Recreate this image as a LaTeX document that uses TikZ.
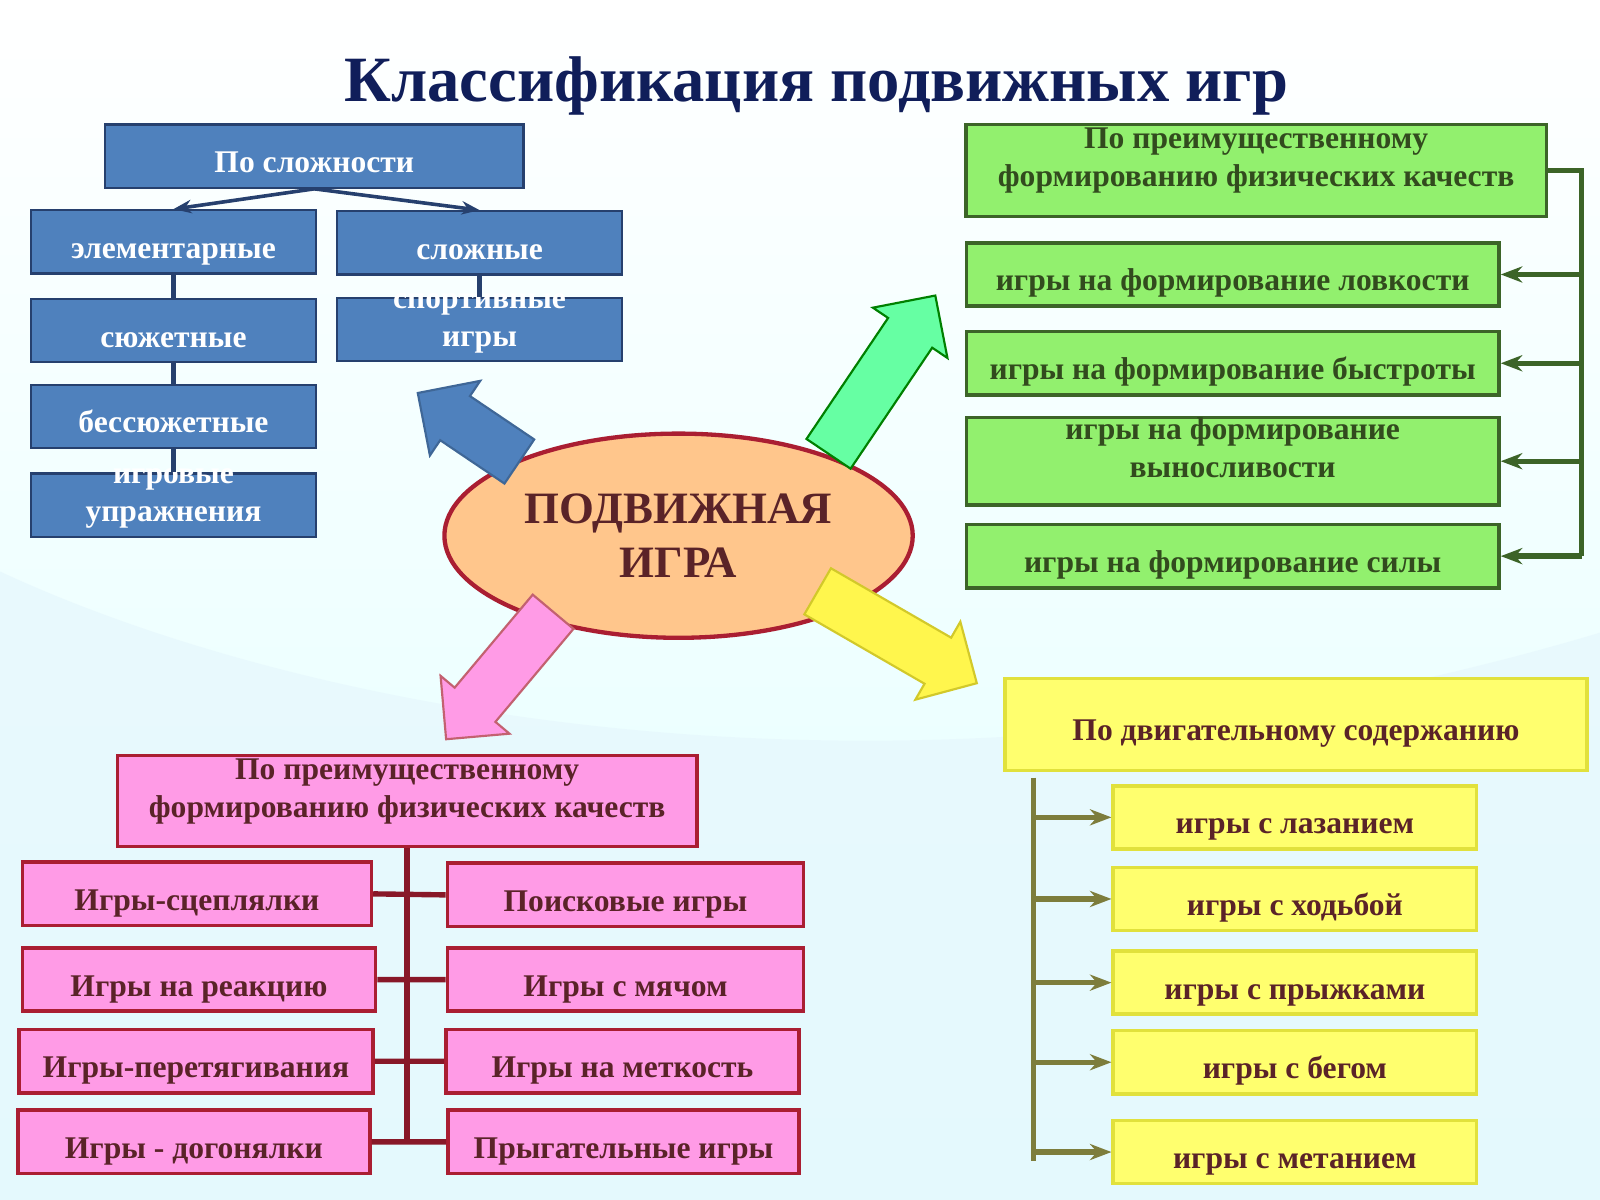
\documentclass[tikz,border=0pt]{standalone}
\usepackage{fontspec}
\setmainfont{Liberation Serif}
\usetikzlibrary{shapes.geometric,shapes.arrows,arrows.meta}
\definecolor{bluebox}{RGB}{79,129,189}
\definecolor{blueline}{RGB}{38,64,110}
\definecolor{greenbox}{RGB}{146,240,110}
\definecolor{greenline}{RGB}{60,100,40}
\definecolor{greentext}{RGB}{50,75,30}
\definecolor{pinkbox}{RGB}{255,155,230}
\definecolor{pinkline}{RGB}{170,30,50}
\definecolor{pinktext}{RGB}{90,35,40}
\definecolor{yellowbox}{RGB}{255,255,110}
\definecolor{yellowline}{RGB}{225,225,60}
\definecolor{olive}{RGB}{125,125,60}
\definecolor{titleblue}{RGB}{16,30,90}
\tikzset{
  box/.style={rectangle,font=\fontsize{8.8}{10.6}\selectfont\bfseries,align=center,inner sep=0pt,text height=2ex,text depth=0pt},
  bluebox/.style={box,fill=bluebox,draw=blueline,line width=0.6pt,text=white},
  greenbox/.style={box,fill=greenbox,draw=greenline,line width=1pt,text=greentext},
  pinkbox/.style={box,fill=pinkbox,draw=pinkline,line width=1pt,text=pinktext},
  yellowbox/.style={box,fill=yellowbox,draw=yellowline,line width=1pt,text=pinktext},
  bigarrow/.style={single arrow,minimum width=0.88cm,single arrow head extend=0.18cm,inner xsep=0pt,inner ysep=0.25cm,line width=0.6pt},
}
\newcommand{\bx}[6]{% #1 style, #2 name, #3 x, #4 y, #5 w, #6 h
  \node[#1,minimum width=#5*0.01cm,minimum height=#6*0.01cm] (#2) at (#3,#4)}
\begin{document}
\begin{tikzpicture}[x=0.01cm,y=-0.01cm]
% background
\shade[top color=white,bottom color=cyan!12!white] (0,0) rectangle (1568,1176);
\fill[cyan!10,opacity=0.7] (0,560) .. controls (300,700) and (900,820) .. (1568,620) -- (1568,1176) -- (0,1176) -- cycle;
\useasboundingbox (0,0) rectangle (1568,1176);

% title
\node[font=\fontsize{18}{20}\selectfont\bfseries,text=titleblue] (title) at (800,84) {Классификация подвижных игр};

% blue part
\bx{bluebox}{slozh}{308}{153}{410}{62} {По сложности};
\bx{bluebox}{elem}{170}{237}{279}{62} {элементарные};
\bx{bluebox}{cmpl}{470}{238}{279}{62} {сложные};
\bx{bluebox}{syuzh}{170}{324}{279}{62} {сюжетные};
\bx{bluebox}{bessyuzh}{170}{408}{279}{62} {бессюжетные};
\bx{bluebox}{igrovye}{170}{495}{279}{62} {игровые\\упражнения};
\bx{bluebox}{sport}{470}{323}{279}{62} {спортивные\\игры};
\draw[blueline,line width=1pt,-{Stealth[length=5pt]}] (slozh.south) -- (elem.north);
\draw[blueline,line width=1pt,-{Stealth[length=5pt]}] (slozh.south) -- (cmpl.north);
\draw[blueline,line width=1.5pt] (elem) -- (syuzh) (syuzh) -- (bessyuzh) (bessyuzh) -- (igrovye) (cmpl) -- (sport);

% centre
\node[ellipse,fill=orange!45!white,draw=pinkline,line width=1.2pt,minimum width=4.44cm,minimum height=2cm,
  font=\fontsize{12.5}{15}\selectfont\bfseries,text=pinktext,align=center] (igra) at (665,525) {ПОДВИЖНАЯ\\ИГРА};
\node[bigarrow,fill=bluebox,draw=bluebox!80!black,minimum height=1.2cm,rotate=146] (ablue) at (470,426) {};
\node[bigarrow,fill=green!60!cyan!60!white,draw=green!50!black,minimum height=1.87cm,rotate=56] (agreen) at (857,378) {};
\node[bigarrow,fill=pinkbox,draw=pinkline!70,minimum height=1.63cm,rotate=-130] (apink) at (498,652) {};
\node[bigarrow,fill=yellow!70!white,draw=yellow!80!black,minimum height=1.8cm,rotate=-30] (ayellow) at (868,618) {};

% green part
\bx{greenbox}{ghead}{1231}{167}{569}{90} {По преимущественному\\формированию физических качеств};
\bx{greenbox}{lov}{1208}{269}{522}{62} {игры на формирование ловкости};
\bx{greenbox}{bystr}{1208}{356}{522}{62} {игры на формирование быстроты};
\bx{greenbox}{vynos}{1208}{452}{522}{86} {игры на формирование\\выносливости};
\bx{greenbox}{sila}{1208}{545}{522}{62} {игры на формирование силы};
\coordinate (gtop) at (1550,167);
\coordinate (gbot) at (1550,545);
\draw[greenline,line width=1.5pt] (ghead.east) -- (gtop) -- (gbot);
\foreach \b in {lov,bystr,vynos,sila}
  \draw[greenline,line width=1.5pt,-{Stealth[length=6pt]}] (gtop |- \b.east) -- (\b.east);

% yellow part
\bx{yellowbox}{yhead}{1270}{710}{570}{90} {По двигательному содержанию};
\bx{yellowbox}{laz}{1269}{801}{356}{62} {игры с лазанием};
\bx{yellowbox}{hod}{1269}{881}{356}{62} {игры с ходьбой};
\bx{yellowbox}{pryzh}{1269}{963}{356}{62} {игры с прыжками};
\bx{yellowbox}{beg}{1269}{1041}{356}{62} {игры с бегом};
\bx{yellowbox}{metan}{1269}{1129}{356}{62} {игры с метанием};
\coordinate (ytop) at (1013,762);
\coordinate (ybot) at (1013,1138);
\draw[olive,line width=1.5pt] (ytop) -- (ybot);
\foreach \b in {laz,hod,pryzh,beg,metan}
  \draw[olive,line width=1.5pt,-{Stealth[length=6pt]}] (ytop |- \b.west) -- (\b.west);

% pink part
\bx{pinkbox}{phead}{399}{785}{568}{89} {По преимущественному\\формированию физических качеств};
\bx{pinkbox}{scepl}{193}{876}{342}{62} {Игры-сцеплялки};
\bx{pinkbox}{reakc}{195}{960}{346}{62} {Игры на реакцию};
\bx{pinkbox}{peret}{192}{1040}{347}{62} {Игры-перетягивания};
\bx{pinkbox}{dogon}{190}{1119}{345}{62} {Игры - догонялки};
\bx{pinkbox}{poisk}{613}{877}{349}{62} {Поисковые игры};
\bx{pinkbox}{myach}{613}{960}{349}{62} {Игры с мячом};
\bx{pinkbox}{metk}{610}{1040}{346}{62} {Игры на меткость};
\bx{pinkbox}{pryg}{611}{1119}{344}{62} {Прыгательные игры};
\coordinate (pbot) at (399,1117);
\draw[pinkline!80!black,line width=1.5pt] (phead.south) -- (pbot);
\draw[pinkline!80!black,line width=1.5pt] (scepl.east) -- (poisk.west) (reakc.east) -- (myach.west)
  (peret.east) -- (metk.west) (dogon.east) -- (pryg.west);
\end{tikzpicture}
\end{document}
